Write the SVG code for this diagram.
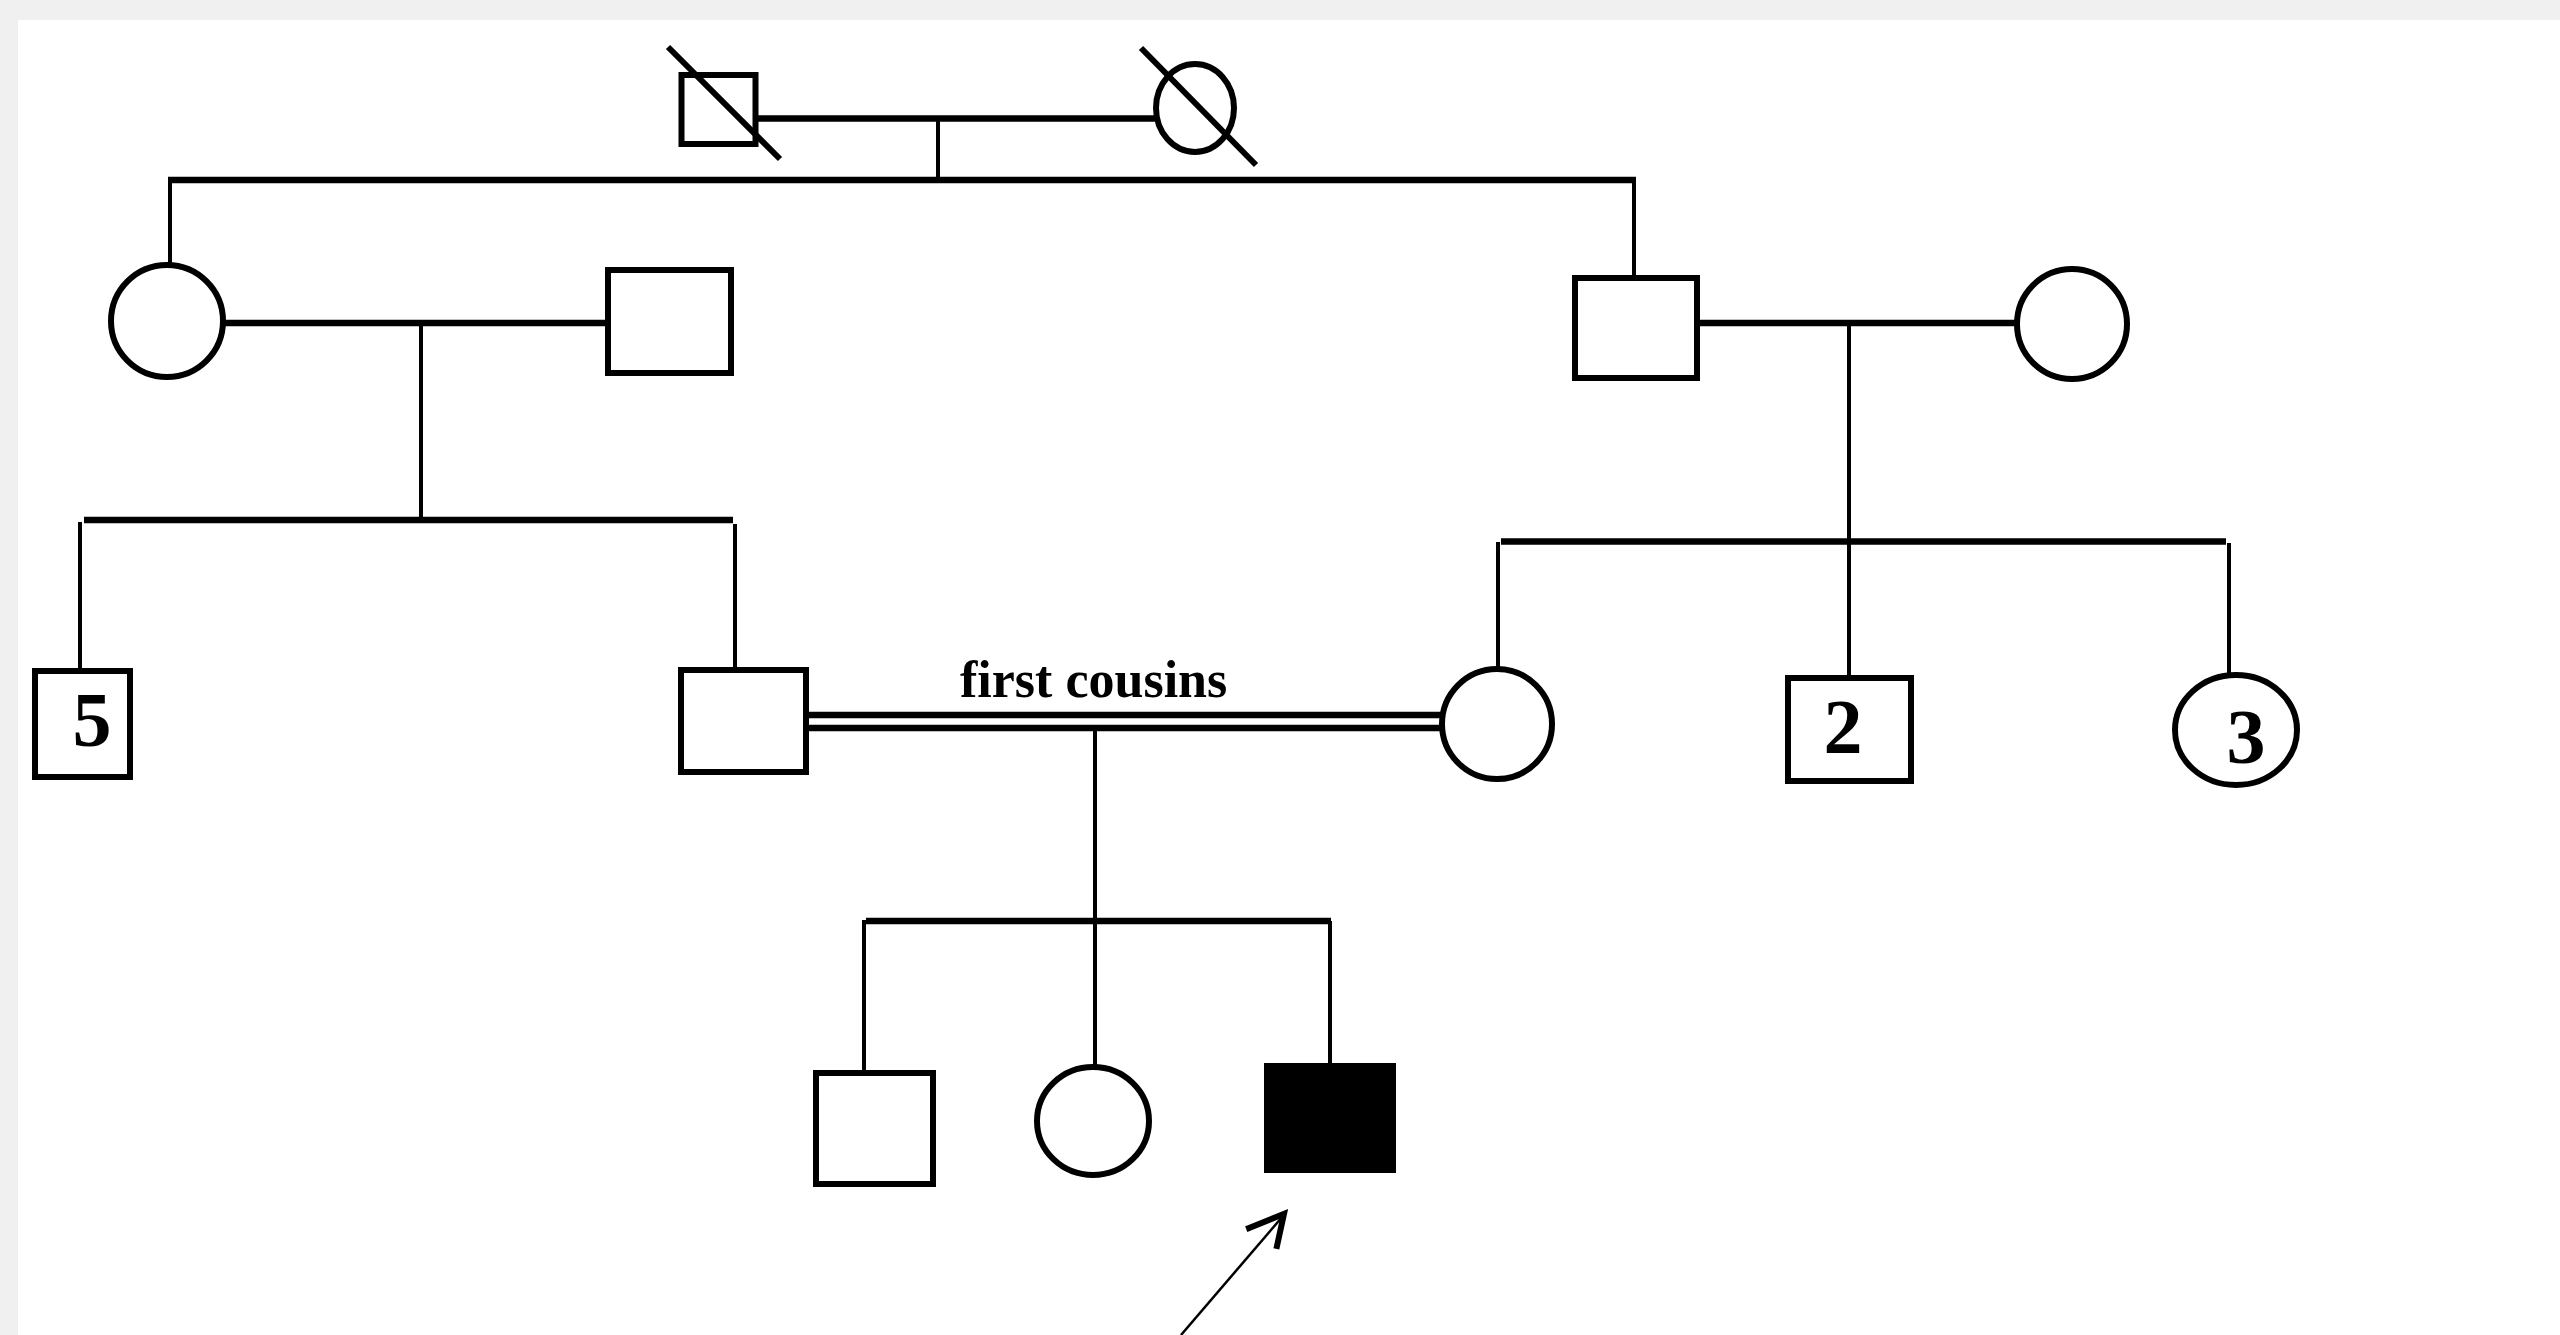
<svg xmlns="http://www.w3.org/2000/svg" width="2560" height="1335" viewBox="0 0 2560 1335">
<style>
.bg{fill:#f0f0f0}
.page{fill:#ffffff}
.shape{fill:#ffffff;stroke:#000;stroke-width:6}
.affected{fill:#000;stroke:#000;stroke-width:2}
.h{stroke:#000;stroke-width:6.5;fill:none}
.v{stroke:#000;stroke-width:4;fill:none}
.dec{stroke:#000;stroke-width:6;fill:none}
.thin{stroke:#000;stroke-width:2.5;fill:none}
.barb{stroke:#000;stroke-width:6;fill:none;stroke-linecap:square}
.num{font-family:"Liberation Serif","Times New Roman",serif;font-weight:bold;font-size:78px;fill:#000;text-anchor:middle}
.lbl{font-family:"Liberation Serif","Times New Roman",serif;font-weight:bold;font-size:52px;fill:#000}
</style>
<rect class="bg" x="0" y="0" width="2560" height="1335"/>
<rect class="page" x="18" y="20" width="2542" height="1315"/>

<g id="connectors">
  <!-- generation I -->
  <line class="h" x1="756" y1="118.5" x2="1155" y2="118.5"/>
  <line class="v" x1="938" y1="118" x2="938" y2="180"/>
  <line class="h" x1="168" y1="180" x2="1636" y2="180"/>
  <line class="v" x1="170" y1="180" x2="170" y2="265"/>
  <line class="v" x1="1634" y1="180" x2="1634" y2="276"/>
  <!-- generation II left -->
  <line class="h" x1="225" y1="323" x2="606" y2="323"/>
  <line class="v" x1="421" y1="323" x2="421" y2="520"/>
  <line class="h" x1="84" y1="520" x2="733" y2="520"/>
  <line class="v" x1="80" y1="522" x2="80" y2="669"/>
  <line class="v" x1="735" y1="524" x2="735" y2="668"/>
  <!-- generation II right -->
  <line class="h" x1="1700" y1="323" x2="2015" y2="323"/>
  <line class="v" x1="1849" y1="323" x2="1849" y2="541"/>
  <line class="h" x1="1501" y1="541.5" x2="2226" y2="541.5"/>
  <line class="v" x1="1498" y1="542" x2="1498" y2="667"/>
  <line class="v" x1="1849" y1="541" x2="1849" y2="676"/>
  <line class="v" x1="2229" y1="543" x2="2229" y2="674"/>
  <!-- consanguineous mating -->
  <line class="h" x1="809" y1="715" x2="1441" y2="715"/>
  <line class="h" x1="809" y1="728" x2="1441" y2="728"/>
  <line class="v" x1="1095" y1="728" x2="1095" y2="921"/>
  <line class="h" x1="866" y1="921" x2="1331" y2="921"/>
  <line class="v" x1="864" y1="920" x2="864" y2="1071"/>
  <line class="v" x1="1095" y1="921" x2="1095" y2="1065"/>
  <line class="v" x1="1330" y1="921" x2="1330" y2="1064"/>
  <!-- proband arrow -->
  <line class="thin" x1="1181" y1="1335" x2="1283" y2="1216"/>
  <polyline class="barb" points="1249,1228 1284,1214 1277,1246"/>
</g>

<g id="I-1">
  <rect class="shape" x="681.5" y="75" width="74" height="69"/>
  <line class="dec" x1="668" y1="47" x2="780" y2="159"/>
</g>
<g id="I-2">
  <ellipse class="shape" cx="1195" cy="108" rx="39" ry="44"/>
  <line class="dec" x1="1141" y1="48" x2="1256" y2="165"/>
</g>

<g id="II-1">
  <ellipse class="shape" cx="167" cy="321" rx="56" ry="56"/>
</g>
<g id="II-2">
  <rect class="shape" x="608" y="270" width="123" height="103"/>
</g>
<g id="II-3">
  <rect class="shape" x="1575" y="278" width="122" height="100"/>
</g>
<g id="II-4">
  <ellipse class="shape" cx="2072" cy="324" rx="55" ry="55"/>
</g>

<g id="III-1">
  <rect class="shape" x="35" y="671" width="95" height="106"/>
  <text class="num" x="92" y="746">5</text>
</g>
<g id="III-2">
  <rect class="shape" x="681" y="670" width="125" height="102"/>
</g>
<g id="label-first-cousins">
  <text class="lbl" x="960" y="697">first cousins</text>
</g>
<g id="III-3">
  <ellipse class="shape" cx="1497" cy="724" rx="55" ry="55"/>
</g>
<g id="III-4">
  <rect class="shape" x="1788" y="678" width="123" height="103"/>
  <text class="num" x="1843" y="753">2</text>
</g>
<g id="III-5">
  <ellipse class="shape" cx="2236" cy="730" rx="61" ry="55"/>
  <text class="num" x="2246" y="763">3</text>
</g>

<g id="IV-1">
  <rect class="shape" x="816" y="1073" width="117" height="111"/>
</g>
<g id="IV-2">
  <ellipse class="shape" cx="1093" cy="1121" rx="56" ry="54"/>
</g>
<g id="IV-3">
  <rect class="affected" x="1265" y="1064" width="130" height="108"/>
</g>
</svg>
